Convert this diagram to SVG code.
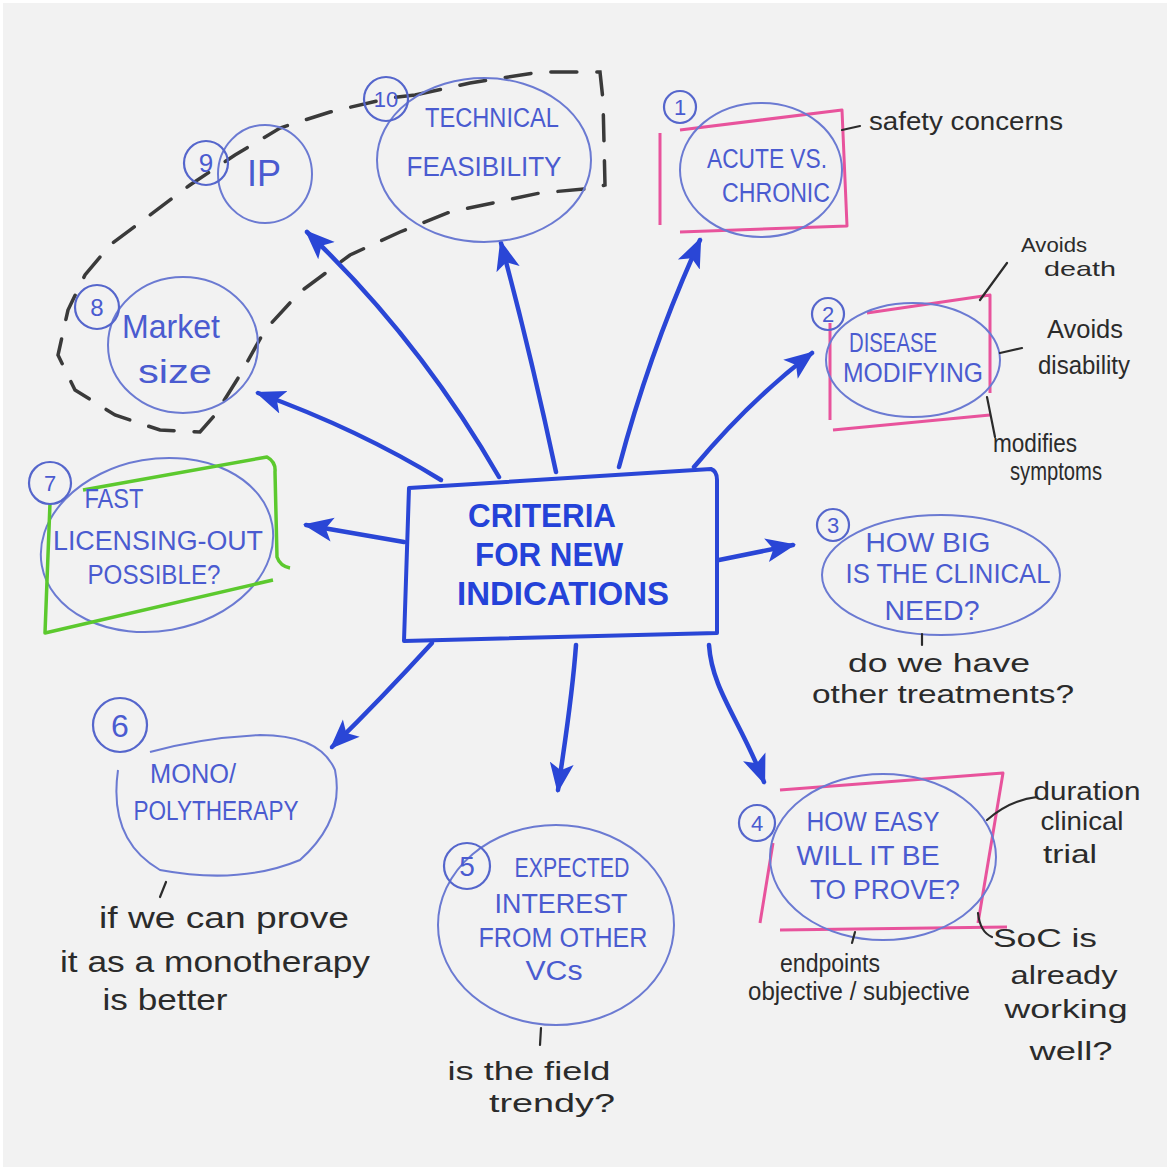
<svg xmlns="http://www.w3.org/2000/svg" width="1170" height="1170" viewBox="0 0 1170 1170">
<style>
.paper{fill:#f2f2f2}
.bl{fill:none;stroke:#6b7ad2;stroke-width:2}
.num{fill:none;stroke:#5566cc;stroke-width:2.2}
.pk{fill:none;stroke:#e8539c;stroke-width:3;stroke-linejoin:round}
.gr{fill:none;stroke:#5cc92e;stroke-width:3.5;stroke-linejoin:round}
.nt{font-family:"Liberation Sans",Arial,sans-serif;fill:#4a5bd0;font-size:27px;text-anchor:middle}
.nn{font-family:"Liberation Sans",Arial,sans-serif;fill:#4a5bd0;font-size:22px;text-anchor:middle}
.ct{font-family:"Liberation Sans",Arial,sans-serif;fill:#2442d8;font-size:34px;font-weight:bold;text-anchor:middle}
.an{font-family:"Liberation Sans",Arial,sans-serif;fill:#2b2b2b;font-size:25px;text-anchor:middle}
.tk{fill:none;stroke:#2b2b2b;stroke-width:2.2;stroke-linecap:round}
.ar{fill:none;stroke:#2a46d6;stroke-width:4.5;stroke-linecap:round}
.dash{fill:none;stroke:#3a3a3a;stroke-width:3.5;stroke-dasharray:26 20;stroke-linecap:round}
</style>
<defs>
<marker id="ah" viewBox="0 0 30 26" refX="27" refY="13" markerWidth="30" markerHeight="26" orient="auto" markerUnits="userSpaceOnUse">
<path d="M0,1 L30,13 L0,25 L7,13 Z" fill="#2a46d6"/>
</marker>
</defs>
<rect width="1170" height="1170" fill="#ffffff"/>
<rect x="3" y="3" width="1164" height="1164" class="paper"/>

<g id="group-loop">
<path class="dash" d="M415,95 L470,83 L540,72 L600,72 L603,100 L605,185 L595,188 L540,193 L450,212 L400,232 L350,255 L300,292 L265,330 L240,375 L215,415 L200,432 L160,430 L115,415 L75,390 L58,355 L68,310 L85,275 L110,245 L150,215 L190,185 L235,155 L280,128 L330,112 L390,98 Z"/>
</g>

<g id="connectors">
<path class="ar" marker-end="url(#ah)" d="M441,480 Q360,430 258,393"/>
<path class="ar" marker-end="url(#ah)" d="M499,477 Q420,340 307,232"/>
<path class="ar" marker-end="url(#ah)" d="M556,472 Q530,350 501,243"/>
<path class="ar" marker-end="url(#ah)" d="M619,467 Q650,350 700,240"/>
<path class="ar" marker-end="url(#ah)" d="M694,467 Q750,400 812,353"/>
<path class="ar" marker-end="url(#ah)" d="M404,542 L306,525"/>
<path class="ar" marker-end="url(#ah)" d="M719,560 L793,545"/>
<path class="ar" marker-end="url(#ah)" d="M432,643 Q380,700 332,747"/>
<path class="ar" marker-end="url(#ah)" d="M576,645 C572,700 565,740 558,790"/>
<path class="ar" marker-end="url(#ah)" d="M709,645 C712,690 740,720 764,782"/>
</g>

<g id="center">
<path d="M409,488 L711,469 Q717,471 717,480 L717,633 L404,641 Z" fill="none" stroke="#2a46d6" stroke-width="4" stroke-linejoin="round"/>
<text class="ct" x="542" y="527" textLength="148" lengthAdjust="spacingAndGlyphs">CRITERIA</text>
<text class="ct" x="549" y="566" textLength="148" lengthAdjust="spacingAndGlyphs">FOR NEW</text>
<text class="ct" x="563" y="605" textLength="212" lengthAdjust="spacingAndGlyphs">INDICATIONS</text>
</g>

<g id="node-1">
<path class="pk" d="M680,130 L842,110 L847,226 L680,232 M660,133 L660,225"/>
<ellipse class="bl" cx="761" cy="170" rx="81" ry="67"/>
<circle class="num" cx="680" cy="107" r="16"/>
<text class="nn" x="680" y="115">1</text>
<text class="nt" x="767" y="168" textLength="120" lengthAdjust="spacingAndGlyphs">ACUTE VS.</text>
<text class="nt" x="776" y="202" textLength="108" lengthAdjust="spacingAndGlyphs">CHRONIC</text>
<path class="tk" d="M842,130 L860,126"/>
<text class="an" x="966" y="130" textLength="194" lengthAdjust="spacingAndGlyphs">safety concerns</text>
</g>

<g id="node-2">
<path class="pk" d="M867,313 L990,295 L990,393 M833,430 L990,415 M830,323 L830,420"/>
<ellipse class="bl" cx="913" cy="360" rx="87" ry="57"/>
<circle class="num" cx="828" cy="314" r="16"/>
<text class="nn" x="828" y="322">2</text>
<text class="nt" x="893" y="352" textLength="88" lengthAdjust="spacingAndGlyphs">DISEASE</text>
<text class="nt" x="913" y="382" textLength="140" lengthAdjust="spacingAndGlyphs">MODIFYING</text>
<path class="tk" d="M980,300 L1007,263 M1000,353 L1022,348 M987,397 L995,437"/>
<text class="an" x="1054" y="252" style="font-size:21px" textLength="66" lengthAdjust="spacingAndGlyphs">Avoids</text>
<text class="an" x="1080" y="276" style="font-size:21px" textLength="72" lengthAdjust="spacingAndGlyphs">death</text>
<text class="an" x="1085" y="338" textLength="76" lengthAdjust="spacingAndGlyphs">Avoids</text>
<text class="an" x="1084" y="374" textLength="92" lengthAdjust="spacingAndGlyphs">disability</text>
<text class="an" x="1035" y="452" textLength="84" lengthAdjust="spacingAndGlyphs">modifies</text>
<text class="an" x="1056" y="480" textLength="92" lengthAdjust="spacingAndGlyphs">symptoms</text>
</g>

<g id="node-3">
<ellipse class="bl" cx="941" cy="575" rx="119" ry="60"/>
<circle class="num" cx="833" cy="525" r="16"/>
<text class="nn" x="833" y="533">3</text>
<text class="nt" x="928" y="552" textLength="125" lengthAdjust="spacingAndGlyphs">HOW BIG</text>
<text class="nt" x="948" y="583" textLength="205" lengthAdjust="spacingAndGlyphs">IS THE CLINICAL</text>
<text class="nt" x="932" y="620" textLength="95" lengthAdjust="spacingAndGlyphs">NEED?</text>
<path class="tk" d="M922,634 L922,645"/>
<text class="an" x="939" y="672" textLength="182" lengthAdjust="spacingAndGlyphs">do we have</text>
<text class="an" x="943" y="703" textLength="262" lengthAdjust="spacingAndGlyphs">other treatments?</text>
</g>

<g id="node-4">
<path class="pk" d="M780,790 L1003,773 Q990,850 978,923 M773,843 L760,923 M780,930 L1007,927"/>
<ellipse class="bl" cx="883" cy="857" rx="113" ry="83"/>
<circle class="num" cx="757" cy="823" r="18"/>
<text class="nn" x="757" y="831">4</text>
<text class="nt" x="873" y="831" textLength="133" lengthAdjust="spacingAndGlyphs">HOW EASY</text>
<text class="nt" x="868" y="865" textLength="143" lengthAdjust="spacingAndGlyphs">WILL IT BE</text>
<text class="nt" x="885" y="899" textLength="150" lengthAdjust="spacingAndGlyphs">TO PROVE?</text>
<path class="tk" d="M987,820 Q1010,800 1037,797"/>
<text class="an" x="1087" y="800" textLength="107" lengthAdjust="spacingAndGlyphs">duration</text>
<text class="an" x="1082" y="830" textLength="83" lengthAdjust="spacingAndGlyphs">clinical</text>
<text class="an" x="1070" y="863" textLength="54" lengthAdjust="spacingAndGlyphs">trial</text>
<path class="tk" d="M978,913 Q980,932 992,937"/>
<text class="an" x="1045" y="947" textLength="104" lengthAdjust="spacingAndGlyphs">SoC is</text>
<text class="an" x="1064" y="984" textLength="107" lengthAdjust="spacingAndGlyphs">already</text>
<text class="an" x="1066" y="1018" textLength="123" lengthAdjust="spacingAndGlyphs">working</text>
<text class="an" x="1071" y="1060" textLength="83" lengthAdjust="spacingAndGlyphs">well?</text>
<path class="tk" d="M855,932 L852,943"/>
<text class="an" x="830" y="972" textLength="100" lengthAdjust="spacingAndGlyphs">endpoints</text>
<text class="an" x="859" y="1000" textLength="222" lengthAdjust="spacingAndGlyphs">objective / subjective</text>
</g>

<g id="node-5">
<ellipse class="bl" cx="556" cy="925" rx="118" ry="100"/>
<circle class="num" cx="467" cy="866" r="23"/>
<text class="nn" x="467" y="876" style="font-size:28px">5</text>
<text class="nt" x="572" y="877" textLength="115" lengthAdjust="spacingAndGlyphs">EXPECTED</text>
<text class="nt" x="561" y="913" textLength="133" lengthAdjust="spacingAndGlyphs">INTEREST</text>
<text class="nt" x="563" y="947" textLength="169" lengthAdjust="spacingAndGlyphs">FROM OTHER</text>
<text class="nt" x="554" y="980" textLength="57" lengthAdjust="spacingAndGlyphs">VCs</text>
<path class="tk" d="M541,1028 L540,1045"/>
<text class="an" x="529" y="1080" textLength="163" lengthAdjust="spacingAndGlyphs">is the field</text>
<text class="an" x="552" y="1112" textLength="126" lengthAdjust="spacingAndGlyphs">trendy?</text>
</g>

<g id="node-6">
<path class="bl" d="M118,770 Q108,840 160,870 Q240,885 300,860 Q345,820 335,770 Q320,735 260,735 Q200,738 150,752"/>
<circle class="num" cx="120" cy="725" r="27"/>
<text class="nn" x="120" y="737" style="font-size:32px">6</text>
<text class="nt" x="193" y="783" textLength="86" lengthAdjust="spacingAndGlyphs">MONO/</text>
<text class="nt" x="216" y="820" textLength="165" lengthAdjust="spacingAndGlyphs">POLYTHERAPY</text>
<path class="tk" d="M166,882 L160,897"/>
<text class="an" x="224" y="928" style="font-size:30px" textLength="250" lengthAdjust="spacingAndGlyphs">if we can prove</text>
<text class="an" x="215" y="972" style="font-size:30px" textLength="310" lengthAdjust="spacingAndGlyphs">it as a monotherapy</text>
<text class="an" x="165" y="1010" style="font-size:30px" textLength="125" lengthAdjust="spacingAndGlyphs">is better</text>
</g>

<g id="node-7">
<ellipse class="bl" cx="157" cy="545" rx="117" ry="86" transform="rotate(-10 157 545)"/>
<path class="gr" d="M83,490 L267,457 Q276,462 275,472 L277,557 Q280,566 290,568 M50,503 L45,633 L273,580"/>
<circle class="num" cx="50" cy="483" r="21"/>
<text class="nn" x="50" y="491">7</text>
<text class="nt" x="114" y="508" textLength="59" lengthAdjust="spacingAndGlyphs">FAST</text>
<text class="nt" x="158" y="550" textLength="210" lengthAdjust="spacingAndGlyphs">LICENSING-OUT</text>
<text class="nt" x="154" y="584" textLength="133" lengthAdjust="spacingAndGlyphs">POSSIBLE?</text>
</g>

<g id="node-8">
<ellipse class="bl" cx="183" cy="345" rx="75" ry="68"/>
<circle class="num" cx="97" cy="307" r="22"/>
<text class="nn" x="97" y="316" style="font-size:24px">8</text>
<text class="nt" x="171" y="338" style="font-size:34px" textLength="98" lengthAdjust="spacingAndGlyphs">Market</text>
<text class="nt" x="175" y="383" style="font-size:34px" textLength="74" lengthAdjust="spacingAndGlyphs">size</text>
</g>

<g id="node-9">
<ellipse class="bl" cx="265" cy="174" rx="47" ry="49"/>
<circle class="num" cx="206" cy="163" r="22"/>
<text class="nn" x="206" y="172" style="font-size:26px">9</text>
<text class="nt" x="264" y="186" style="font-size:36px" textLength="34" lengthAdjust="spacingAndGlyphs">IP</text>
</g>

<g id="node-10">
<ellipse class="bl" cx="484" cy="160" rx="107" ry="82"/>
<circle class="num" cx="386" cy="99" r="22"/>
<text class="nn" x="386" y="107">10</text>
<text class="nt" x="492" y="127" textLength="134" lengthAdjust="spacingAndGlyphs">TECHNICAL</text>
<text class="nt" x="484" y="176" textLength="155" lengthAdjust="spacingAndGlyphs">FEASIBILITY</text>
</g>
</svg>
